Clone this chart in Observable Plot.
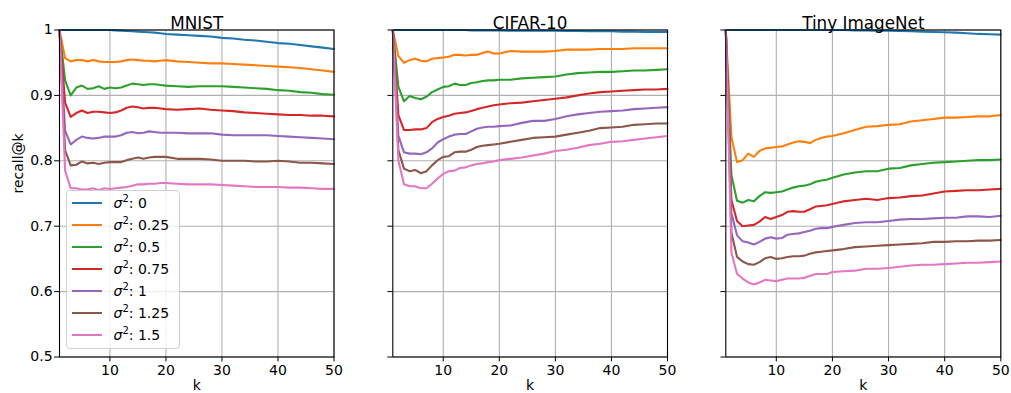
<!DOCTYPE html>
<html><head><meta charset="utf-8">
<script src="https://cdn.jsdelivr.net/npm/d3@7"></script>
<script src="https://cdn.jsdelivr.net/npm/@observablehq/plot@0.6"></script>
<style>
body{margin:0;background:#fff;font-family:"DejaVu Sans",sans-serif;}
#fig{position:relative;width:1011px;height:393px;overflow:hidden;background:#fff}
#fig svg{position:absolute;top:0;left:0;overflow:visible}
.legend{position:absolute;box-sizing:border-box;border:1px solid #d0d0d0;border-radius:4px;background:rgba(255,255,255,0.8);font-size:14px;color:#000}
.legend .row{position:absolute;left:0;height:22px;line-height:22px;white-space:nowrap}
.legend .sw{position:absolute;left:5px;top:10px;width:30px;height:2.1px}
.legend .lab{position:absolute;left:47px;top:0}
.legend sup{font-size:10px;vertical-align:0;position:relative;top:-6px}
</style></head><body><div id="fig"></div><script>
const sigmas = ["0", "0.25", "0.5", "0.75", "1", "1.25", "1.5"];
const colors = ["#1f77b4", "#ff7f0e", "#2ca02c", "#d62728", "#9467bd", "#8c564b", "#e377c2"];
const kValues = [1,2,3,4,5,6,7,8,9,10,11,12,13,14,15,16,17,18,19,20,22,24,26,28,30,32,34,36,38,40,42,44,46,48,50];
const xTicks = [10, 20, 30, 40, 50];
const yTicks = [0.5, 0.6, 0.7, 0.8, 0.9, 1];
const titles = ["MNIST", "CIFAR-10", "Tiny ImageNet"];

// MNIST, one row per sigma^2
const mnist = [
  [1,1,1,1,1,1,1,1,1,1,0.9995,0.999,0.9985,0.998,0.9975,0.997,0.9965,0.996,0.995,0.994,0.993,0.992,0.991,0.990,0.988,0.987,0.985,0.984,0.982,0.980,0.979,0.977,0.975,0.973,0.971],
  [1,0.957,0.952,0.954,0.954,0.952,0.954,0.952,0.951,0.951,0.951,0.952,0.954,0.955,0.954,0.953,0.953,0.952,0.953,0.954,0.952,0.951,0.950,0.949,0.949,0.948,0.947,0.946,0.945,0.944,0.943,0.942,0.940,0.938,0.936],
  [1,0.923,0.900,0.912,0.915,0.910,0.911,0.914,0.910,0.912,0.911,0.912,0.915,0.918,0.917,0.916,0.917,0.917,0.916,0.915,0.914,0.913,0.914,0.914,0.914,0.913,0.912,0.911,0.910,0.908,0.907,0.905,0.904,0.902,0.901],
  [1,0.889,0.867,0.873,0.877,0.873,0.875,0.875,0.874,0.873,0.874,0.877,0.881,0.883,0.882,0.880,0.881,0.881,0.880,0.879,0.878,0.879,0.880,0.878,0.877,0.876,0.874,0.873,0.872,0.871,0.870,0.870,0.869,0.869,0.868],
  [1,0.846,0.825,0.832,0.837,0.835,0.834,0.835,0.837,0.837,0.837,0.839,0.843,0.844,0.842,0.843,0.845,0.844,0.843,0.843,0.843,0.842,0.842,0.842,0.840,0.839,0.839,0.839,0.839,0.838,0.837,0.836,0.835,0.834,0.833],
  [1,0.816,0.793,0.794,0.799,0.796,0.797,0.795,0.797,0.798,0.798,0.798,0.801,0.803,0.805,0.803,0.805,0.806,0.806,0.806,0.803,0.803,0.803,0.802,0.800,0.800,0.800,0.799,0.799,0.800,0.799,0.797,0.797,0.796,0.795],
  [1,0.785,0.758,0.758,0.756,0.756,0.758,0.755,0.758,0.757,0.758,0.759,0.760,0.762,0.764,0.764,0.765,0.765,0.766,0.766,0.765,0.764,0.764,0.764,0.763,0.762,0.761,0.760,0.760,0.760,0.759,0.759,0.758,0.757,0.757]
];

// CIFAR-10
const cifar = [
  [1,1,1,1,1,1,1,1,1,1,1,1,1,1,0.9995,0.9995,0.9995,0.9995,0.9995,0.9995,0.999,0.999,0.999,0.999,0.999,0.9985,0.9985,0.998,0.998,0.998,0.9975,0.9975,0.997,0.997,0.997],
  [1,0.960,0.950,0.954,0.956,0.953,0.952,0.956,0.957,0.958,0.959,0.962,0.962,0.961,0.962,0.962,0.965,0.967,0.964,0.964,0.968,0.967,0.967,0.967,0.968,0.970,0.970,0.970,0.971,0.971,0.971,0.972,0.972,0.972,0.972],
  [1,0.913,0.891,0.899,0.896,0.894,0.898,0.905,0.909,0.913,0.914,0.918,0.916,0.916,0.919,0.920,0.922,0.923,0.923,0.924,0.924,0.926,0.927,0.928,0.929,0.932,0.934,0.935,0.936,0.936,0.937,0.938,0.938,0.939,0.940],
  [1,0.870,0.847,0.847,0.848,0.848,0.850,0.859,0.864,0.867,0.869,0.872,0.873,0.874,0.876,0.879,0.881,0.883,0.885,0.886,0.888,0.889,0.891,0.893,0.895,0.897,0.900,0.903,0.905,0.906,0.907,0.908,0.909,0.909,0.910],
  [1,0.838,0.813,0.811,0.811,0.810,0.813,0.819,0.828,0.833,0.837,0.840,0.841,0.841,0.845,0.849,0.851,0.852,0.852,0.853,0.854,0.858,0.861,0.861,0.864,0.868,0.871,0.873,0.875,0.876,0.877,0.879,0.880,0.881,0.882],
  [1,0.816,0.788,0.784,0.786,0.781,0.784,0.793,0.801,0.806,0.807,0.813,0.814,0.814,0.817,0.821,0.823,0.824,0.825,0.826,0.829,0.832,0.835,0.836,0.837,0.840,0.843,0.846,0.850,0.851,0.852,0.855,0.856,0.857,0.857],
  [1,0.800,0.764,0.761,0.761,0.758,0.758,0.765,0.773,0.780,0.784,0.785,0.789,0.790,0.793,0.795,0.796,0.798,0.799,0.801,0.803,0.805,0.808,0.811,0.815,0.817,0.820,0.824,0.826,0.829,0.830,0.832,0.834,0.836,0.838]
];

// Tiny ImageNet
const tiny = [
  [1,1,1,1,1,1,1,1,1,1,1,1,1,1,1,1,1,1,1,1,1,0.9995,0.9995,0.999,0.999,0.9985,0.998,0.9975,0.997,0.9965,0.996,0.995,0.994,0.9935,0.993],
  [1,0.836,0.798,0.801,0.811,0.806,0.815,0.819,0.820,0.821,0.822,0.825,0.828,0.830,0.829,0.827,0.832,0.835,0.837,0.838,0.842,0.847,0.852,0.853,0.855,0.856,0.860,0.862,0.864,0.866,0.866,0.867,0.868,0.868,0.870],
  [1,0.778,0.739,0.736,0.740,0.738,0.746,0.752,0.751,0.752,0.753,0.756,0.759,0.761,0.762,0.764,0.768,0.770,0.771,0.774,0.779,0.782,0.784,0.784,0.788,0.789,0.793,0.795,0.797,0.798,0.799,0.800,0.801,0.801,0.802],
  [1,0.740,0.708,0.700,0.701,0.702,0.707,0.714,0.711,0.714,0.717,0.722,0.723,0.722,0.722,0.726,0.730,0.731,0.732,0.734,0.738,0.740,0.742,0.740,0.743,0.744,0.746,0.747,0.750,0.753,0.754,0.755,0.755,0.756,0.757],
  [1,0.720,0.686,0.677,0.675,0.672,0.676,0.681,0.683,0.681,0.682,0.687,0.688,0.689,0.691,0.693,0.696,0.697,0.697,0.699,0.702,0.705,0.706,0.706,0.708,0.710,0.711,0.711,0.712,0.713,0.713,0.715,0.715,0.714,0.716],
  [1,0.690,0.653,0.646,0.642,0.641,0.645,0.651,0.653,0.650,0.651,0.653,0.654,0.654,0.655,0.658,0.660,0.661,0.662,0.663,0.665,0.668,0.669,0.670,0.671,0.672,0.673,0.674,0.676,0.676,0.677,0.677,0.678,0.678,0.679],
  [1,0.660,0.627,0.620,0.614,0.611,0.614,0.618,0.617,0.616,0.618,0.620,0.620,0.620,0.621,0.624,0.627,0.627,0.627,0.630,0.631,0.632,0.635,0.635,0.636,0.638,0.640,0.641,0.641,0.642,0.643,0.644,0.644,0.645,0.646]
];

const fig = document.getElementById("fig");
const yFmt = d => d === 1 ? "1" : d.toFixed(1);
const W = 1011;

// each panel is a full-width transparent SVG; margins place its frame
function panel(title, series, x0, x1, showY) {
  const rows = [];
  series.forEach((vals, i) => vals.forEach((v, j) => rows.push({k: kValues[j], v, s: sigmas[i]})));
  const marks = [
    Plot.gridX(xTicks, {stroke: "#b0b0b0", strokeOpacity: 1, strokeWidth: 1.1}),
    Plot.gridY(yTicks, {stroke: "#b0b0b0", strokeOpacity: 1, strokeWidth: 1.1}),
    Plot.line(rows, {x: "k", y: "v", z: "s", stroke: "s", strokeWidth: 2.1, strokeLinejoin: "round"}),
    Plot.frame({stroke: "#000", strokeWidth: 1.1}),
    Plot.axisX(xTicks, {anchor: "bottom", tickSize: 4.9, tickPadding: 3.5, fontSize: 14, label: null}),
    Plot.axisY(yTicks, {anchor: "left", tickSize: 4.9, tickPadding: 2, fontSize: 14, label: null, tickFormat: showY ? yFmt : () => ""}),
    Plot.text([title], {text: d => d, frameAnchor: "top", dy: -13, fontSize: 16.8, fill: "#000"}),
    Plot.text(["k"], {text: d => d, frameAnchor: "bottom", dy: 32.5, fontSize: 14, fill: "#000"})
  ];
  if (showY) marks.push(Plot.text(["recall@k"], {text: d => d, frameAnchor: "left", dx: -41, rotate: -90, fontSize: 14, fill: "#000"}));
  const svg = Plot.plot({
    width: W, height: 393,
    marginLeft: x0, marginRight: W - x1, marginTop: 29.5, marginBottom: 36.5,
    style: {fontFamily: "DejaVu Sans", fontSize: "14px", background: "transparent", color: "#000", overflow: "visible"},
    x: {domain: [1, 50]},
    y: {domain: [0.5, 1]},
    color: {domain: sigmas, range: colors},
    marks
  });
  fig.appendChild(svg);
}

panel(titles[0], mnist, 59, 333.5, true);
panel(titles[1], cifar, 392.3, 667, false);
panel(titles[2], tiny, 725.3, 1000.3, false);

// legend
const leg = document.createElement("div");
leg.className = "legend";
Object.assign(leg.style, {left: "65.5px", top: "190px", width: "114px", height: "159px"});
sigmas.forEach((s, i) => {
  const r = document.createElement("div");
  r.className = "row";
  r.style.top = (1.3 + i * 22) + "px";
  r.style.width = "110px";
  const sw = document.createElement("div");
  sw.className = "sw";
  sw.style.background = colors[i];
  const lab = document.createElement("div");
  lab.className = "lab";
  lab.innerHTML = "<i>σ</i><sup>2</sup>: " + s;
  r.appendChild(sw); r.appendChild(lab);
  leg.appendChild(r);
});
fig.appendChild(leg);
</script></body></html>
